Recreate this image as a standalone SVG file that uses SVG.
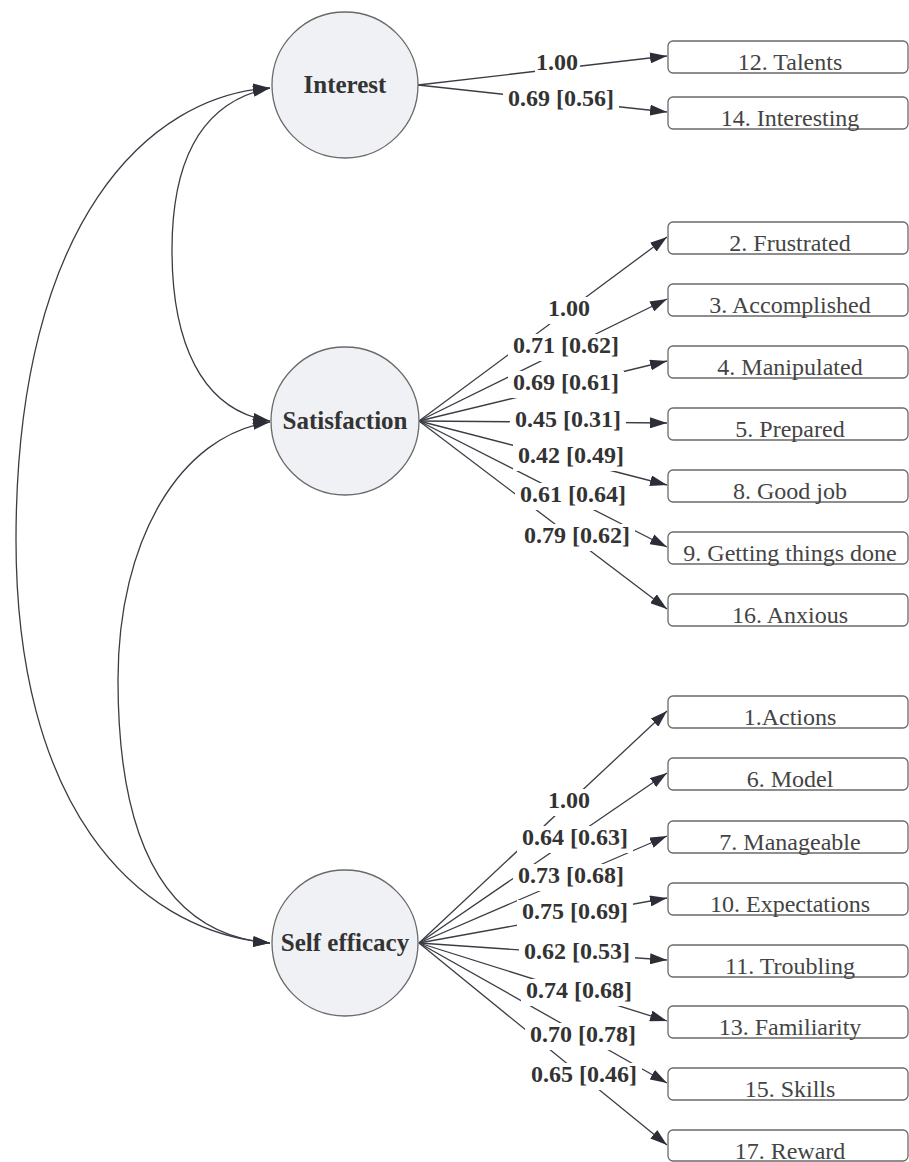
<svg xmlns="http://www.w3.org/2000/svg" width="909" height="1162" viewBox="0 0 909 1162">
<defs>
<marker id="ah" viewBox="0 0 17 11" refX="17" refY="5.5" markerWidth="17" markerHeight="11" markerUnits="userSpaceOnUse" orient="auto-start-reverse">
<path d="M0,0 L17,5.5 L0,11 z" fill="#2b2e36"/>
</marker>
<style>
.ln{stroke:#3a3d45;stroke-width:1.3;fill:none;marker-end:url(#ah)}
.cv{stroke:#3a3d45;stroke-width:1.3;fill:none;marker-start:url(#ah);marker-end:url(#ah)}
.lat{fill:#f0f1f5;stroke:#6a6a6a;stroke-width:1.3}
.latt{font-family:'Liberation Serif','Times New Roman','DejaVu Serif',serif;font-weight:bold;font-size:25px;fill:#333;text-anchor:middle}
.box{fill:#fff;stroke:#6a6a6a;stroke-width:1.3}
.boxt{font-family:'Liberation Serif','Times New Roman','DejaVu Serif',serif;font-size:24px;fill:#444;text-anchor:middle}
.lbg{fill:#fff}
.lbl{font-family:'Liberation Serif','Times New Roman','DejaVu Serif',serif;font-weight:bold;font-size:24px;fill:#333;text-anchor:middle}
</style>
</defs>
<rect width="909" height="1162" fill="#fff"/>
<g id="connectors">
<path class="cv" d="M270,88 C150,95 16,220 16,540 C16,800 130,930 270,943"/>
<path class="cv" d="M270,88 C195,103 172,170 172,250 C172,340 200,410 270,421"/>
<path class="cv" d="M270,422 C180,435 118,540 118,680 C118,850 170,935 270,943"/>
<line class="ln" x1="418" y1="85" x2="667" y2="56"/>
<line class="ln" x1="418" y1="85" x2="667" y2="112"/>
<line class="ln" x1="419" y1="421" x2="667" y2="237"/>
<line class="ln" x1="419" y1="421" x2="667" y2="299"/>
<line class="ln" x1="419" y1="421" x2="667" y2="361"/>
<line class="ln" x1="419" y1="421" x2="667" y2="423"/>
<line class="ln" x1="419" y1="421" x2="667" y2="485"/>
<line class="ln" x1="419" y1="421" x2="667" y2="547"/>
<line class="ln" x1="419" y1="421" x2="667" y2="609"/>
<line class="ln" x1="419" y1="943" x2="667" y2="711"/>
<line class="ln" x1="419" y1="943" x2="667" y2="773"/>
<line class="ln" x1="419" y1="943" x2="667" y2="836"/>
<line class="ln" x1="419" y1="943" x2="667" y2="898"/>
<line class="ln" x1="419" y1="943" x2="667" y2="960"/>
<line class="ln" x1="419" y1="943" x2="667" y2="1021"/>
<line class="ln" x1="419" y1="943" x2="667" y2="1083"/>
<line class="ln" x1="419" y1="943" x2="667" y2="1145"/>
</g>
<g id="labels">
<rect class="lbg" x="535" y="51" width="45" height="26"/><text class="lbl" x="557" y="70">1.00</text>
<rect class="lbg" x="503" y="87" width="116" height="26"/><text class="lbl" x="561" y="106">0.69 [0.56]</text>
<rect class="lbg" x="546" y="297" width="46" height="27"/><text class="lbl" x="569" y="316">1.00</text>
<rect class="lbg" x="508" y="334" width="116" height="27"/><text class="lbl" x="566" y="353">0.71 [0.62]</text>
<rect class="lbg" x="508" y="371" width="116" height="27"/><text class="lbl" x="566" y="390">0.69 [0.61]</text>
<rect class="lbg" x="510" y="408" width="116" height="27"/><text class="lbl" x="568" y="427">0.45 [0.31]</text>
<rect class="lbg" x="513" y="444" width="116" height="27"/><text class="lbl" x="571" y="463">0.42 [0.49]</text>
<rect class="lbg" x="515" y="483" width="116" height="27"/><text class="lbl" x="573" y="502">0.61 [0.64]</text>
<rect class="lbg" x="519" y="524" width="116" height="27"/><text class="lbl" x="577" y="543">0.79 [0.62]</text>
<rect class="lbg" x="546" y="789" width="46" height="27"/><text class="lbl" x="569" y="808">1.00</text>
<rect class="lbg" x="517" y="826" width="116" height="27"/><text class="lbl" x="575" y="845">0.64 [0.63]</text>
<rect class="lbg" x="513" y="864" width="116" height="27"/><text class="lbl" x="571" y="883">0.73 [0.68]</text>
<rect class="lbg" x="517" y="900" width="116" height="27"/><text class="lbl" x="575" y="919">0.75 [0.69]</text>
<rect class="lbg" x="519" y="940" width="116" height="27"/><text class="lbl" x="577" y="959">0.62 [0.53]</text>
<rect class="lbg" x="521" y="979" width="116" height="27"/><text class="lbl" x="579" y="998">0.74 [0.68]</text>
<rect class="lbg" x="525" y="1023" width="116" height="27"/><text class="lbl" x="583" y="1042">0.70 [0.78]</text>
<rect class="lbg" x="526" y="1063" width="116" height="27"/><text class="lbl" x="584" y="1082">0.65 [0.46]</text>
</g>
<g id="interest"><circle class="lat" cx="345" cy="85" r="73"/><text class="latt" x="345" y="93">Interest</text></g>
<g id="satisfaction"><circle class="lat" cx="345" cy="421" r="74"/><text class="latt" x="345" y="429">Satisfaction</text></g>
<g id="selfefficacy"><circle class="lat" cx="345" cy="943" r="73"/><text class="latt" x="345" y="951">Self efficacy</text></g>
<g id="item12"><rect class="box" x="668" y="41" width="240" height="32" rx="5"/><text class="boxt" x="790" y="70">12. Talents</text></g>
<g id="item14"><rect class="box" x="668" y="97" width="240" height="32" rx="5"/><text class="boxt" x="790" y="126">14. Interesting</text></g>
<g id="item2"><rect class="box" x="668" y="222" width="240" height="32" rx="5"/><text class="boxt" x="790" y="251">2. Frustrated</text></g>
<g id="item3"><rect class="box" x="668" y="284" width="240" height="32" rx="5"/><text class="boxt" x="790" y="313">3. Accomplished</text></g>
<g id="item4"><rect class="box" x="668" y="346" width="240" height="32" rx="5"/><text class="boxt" x="790" y="375">4. Manipulated</text></g>
<g id="item5"><rect class="box" x="668" y="408" width="240" height="32" rx="5"/><text class="boxt" x="790" y="437">5. Prepared</text></g>
<g id="item8"><rect class="box" x="668" y="470" width="240" height="32" rx="5"/><text class="boxt" x="790" y="499">8. Good job</text></g>
<g id="item9"><rect class="box" x="668" y="532" width="240" height="32" rx="5"/><text class="boxt" x="790" y="561">9. Getting things done</text></g>
<g id="item16"><rect class="box" x="668" y="594" width="240" height="32" rx="5"/><text class="boxt" x="790" y="623">16. Anxious</text></g>
<g id="item1"><rect class="box" x="668" y="696" width="240" height="32" rx="5"/><text class="boxt" x="790" y="725">1.Actions</text></g>
<g id="item6"><rect class="box" x="668" y="758" width="240" height="32" rx="5"/><text class="boxt" x="790" y="787">6. Model</text></g>
<g id="item7"><rect class="box" x="668" y="821" width="240" height="32" rx="5"/><text class="boxt" x="790" y="850">7. Manageable</text></g>
<g id="item10"><rect class="box" x="668" y="883" width="240" height="32" rx="5"/><text class="boxt" x="790" y="912">10. Expectations</text></g>
<g id="item11"><rect class="box" x="668" y="945" width="240" height="32" rx="5"/><text class="boxt" x="790" y="974">11. Troubling</text></g>
<g id="item13"><rect class="box" x="668" y="1006" width="240" height="32" rx="5"/><text class="boxt" x="790" y="1035">13. Familiarity</text></g>
<g id="item15"><rect class="box" x="668" y="1068" width="240" height="32" rx="5"/><text class="boxt" x="790" y="1097">15. Skills</text></g>
<g id="item17"><rect class="box" x="668" y="1130" width="240" height="31" rx="5"/><text class="boxt" x="790" y="1159">17. Reward</text></g>
</svg>
